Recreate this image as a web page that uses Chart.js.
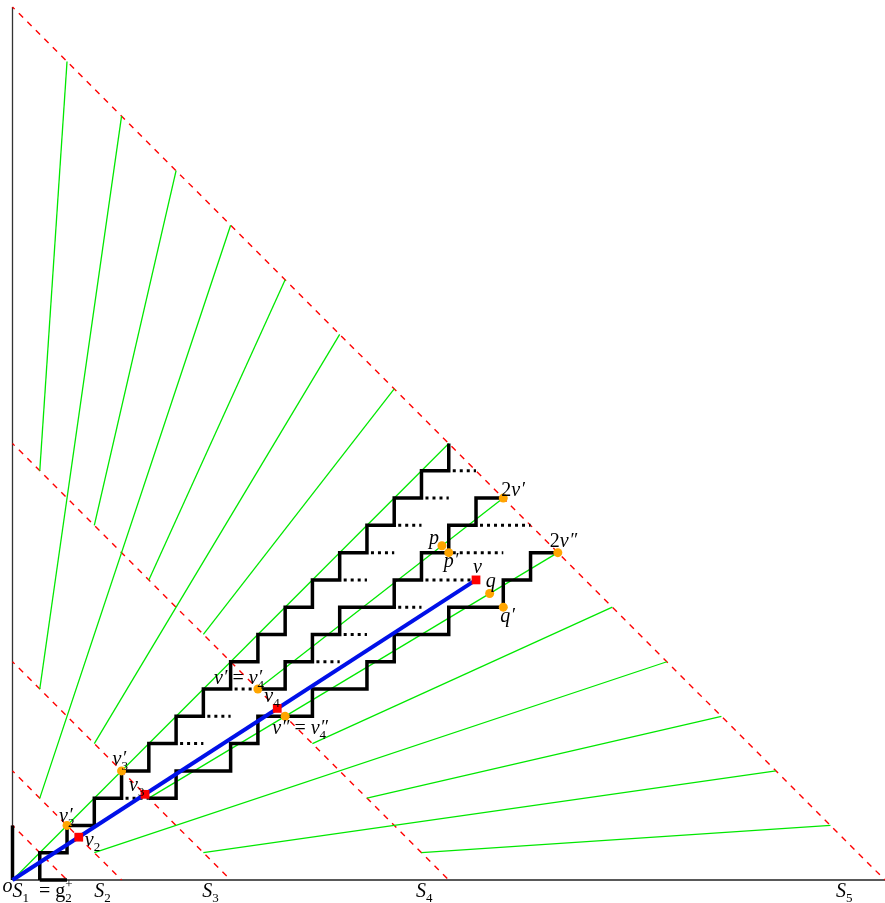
<!DOCTYPE html>
<html>
<head>
<meta charset="utf-8">
<script src="https://cdn.jsdelivr.net/npm/chart.js@4.4.1/dist/chart.umd.min.js"></script>
<style>
    html, body { margin: 0; padding: 0; background: #fff; }
</style>
</head>
<body>
<canvas id="c" width="885" height="903"></canvas>
<script>
// ============================
// Data (lattice coordinates)
// ============================

// red dashed level lines x + y = s
const redSums = [2, 4, 8, 16, 32];

// green ray segments: start point -> end point on x + y = 32
const greenStarts = [[1, 15], [1, 7], [3, 13], [1, 3], [5, 11], [3, 5], [7, 9], [0, 0],
                     [9, 7], [5, 3], [11, 5], [3, 1], [13, 3], [7, 1], [15, 1]];
const greenEnds   = [[2, 30], [4, 28], [6, 26], [8, 24], [10, 22], [12, 20], [14, 18], [16, 16],
                     [18, 14], [20, 12], [22, 10], [24, 8], [26, 6], [28, 4], [30, 2]];

// thick black staircases
const stairA = [[1, 0], [1, 1], [2, 1], [2, 2], [3, 2], [3, 3], [4, 3], [4, 4], [5, 4], [5, 5],
                [6, 5], [6, 6], [7, 6], [7, 7], [8, 7], [8, 8], [9, 8], [9, 9], [10, 9], [10, 10],
                [11, 10], [11, 11], [12, 11], [12, 12], [13, 12], [13, 13], [14, 13], [14, 14],
                [15, 14], [15, 15], [16, 15], [16, 16]];
const stairB = [[9, 7], [10, 7], [10, 8], [11, 8], [11, 9], [12, 9], [12, 10], [14, 10], [14, 11],
                [15, 11], [15, 12], [16, 12], [16, 13], [17, 13], [17, 14], [18, 14]];
const stairC = [[5, 3], [6, 3], [6, 4], [8, 4], [8, 5], [9, 5], [9, 6], [11, 6], [11, 7], [13, 7],
                [13, 8], [14, 8], [14, 9], [16, 9], [16, 10], [18, 10], [18, 11], [19, 11], [19, 12], [20, 12]];
const stairBits = [[[0, 0], [0, 2]], [[1, 0], [2, 0]]];

// dotted continuations: [y, xFrom, xTo]
const dotRows = [[3, 4, 5], [5, 6, 7], [6, 7, 8], [7, 8, 9],
                 [11, 12, 13], [12, 13, 14], [13, 14, 15], [14, 15, 16], [15, 16, 17],
                 [8, 11, 12], [9, 12, 13], [10, 14, 15], [11, 15, 17], [12, 16, 18], [13, 17, 19]];

// blue segment o -> v
const vPoint = [17, 11];

// marked points
const orangePts = { v2p: [2, 2], v3p: [4, 4], v4p: [9, 7], v4pp: [10, 6], twoVp: [18, 14],
                    twoVpp: [20, 12], p: [15.75, 12.25], pp: [16, 12], q: [17.5, 10.5], qp: [18, 10] };
const redPts = { v2: [2.43, 1.57], v3: [4.86, 3.14], v4: [9.71, 6.29], v: [17, 11] };

// ============================
// Text labels
// ============================
const labels = [
    { at: [0, 0], dx: -10, dy: 12, parts: [['o', 'i']] },
    { at: [0, 0], dx: 0, dy: 17, parts: [['S', 'i'], ['1', 'sub'], ['  = ', 'r'], ['g', 'r'], ['2', 'sub'], ['+', 'sup']] },
    { at: [3, 0], dx: 0, dy: 17, parts: [['S', 'i'], ['2', 'sub']] },
    { at: [7, 0], dx: -1, dy: 17, parts: [['S', 'i'], ['3', 'sub']] },
    { at: [14.8, 0], dx: 0, dy: 17, parts: [['S', 'i'], ['4', 'sub']] },
    { at: [30.2, 0], dx: 0, dy: 17, parts: [['S', 'i'], ['5', 'sub']] },
    { at: orangePts.v2p, dx: -8, dy: -3, parts: [['v', 'i'], ['\u2032', 'p'], ['2', 'sub']] },
    { at: redPts.v2, dx: 6, dy: 9, parts: [['v', 'i'], ['2', 'sub']] },
    { at: orangePts.v3p, dx: -9, dy: -6, parts: [['v', 'i'], ['\u2032', 'p'], ['3', 'sub']] },
    { at: redPts.v3, dx: -16, dy: -3, parts: [['v', 'i'], ['3', 'sub']] },
    { at: orangePts.v4p, dx: -44, dy: -5, parts: [['v', 'i'], ['\u2032', 'p'], [' = ', 'r'], ['v', 'i'], ['\u2032', 'p'], ['4', 'sub']] },
    { at: redPts.v4, dx: -13, dy: -6, parts: [['v', 'i'], ['4', 'sub']] },
    { at: orangePts.v4pp, dx: -13, dy: 18, parts: [['v', 'i'], ['\u2033', 'p'], [' = ', 'r'], ['v', 'i'], ['\u2033', 'p'], ['4', 'sub']] },
    { at: redPts.v, dx: -3, dy: -7, parts: [['v', 'i']] },
    { at: orangePts.p, dx: -13, dy: -2, parts: [['p', 'i']] },
    { at: orangePts.pp, dx: -5, dy: 14, parts: [['p', 'i'], ['\u2032', 'p']] },
    { at: orangePts.q, dx: -4, dy: -7, parts: [['q', 'i']] },
    { at: orangePts.qp, dx: -3, dy: 15, parts: [['q', 'i'], ['\u2032', 'p']] },
    { at: orangePts.twoVp, dx: -2, dy: -2, parts: [['2', 'r'], ['v', 'i'], ['\u2032', 'p']] },
    { at: orangePts.twoVpp, dx: -8, dy: -6, parts: [['2', 'r'], ['v', 'i'], ['\u2033', 'p']] }
];

// ============================
// Dataset helpers
// ============================
const pt = a => ({ x: a[0], y: a[1] });

function lineSet(points, color, width, order, dash) {
    return {
        data: points.map(pt),
        showLine: true,
        borderColor: color,
        borderWidth: width,
        borderDash: dash || [],
        borderDashOffset: dash ? 3 : 0,
        borderJoinStyle: 'miter',
        borderCapStyle: 'butt',
        pointRadius: 0,
        pointHoverRadius: 0,
        tension: 0,
        fill: false,
        clip: false,
        order: order
    };
}

function markSet(points, color, style, radius, order) {
    return {
        data: points.map(pt),
        showLine: false,
        pointStyle: style,
        pointRadius: radius,
        pointHoverRadius: radius,
        pointBackgroundColor: color,
        pointBorderColor: color,
        pointBorderWidth: 0,
        clip: false,
        order: order
    };
}

const datasets = [];

// axes
datasets.push(lineSet([[0, 0], [32, 0]], '#222', 1.3, 9));
datasets.push(lineSet([[0, 0], [0, 32]], '#333', 1.3, 9));

redSums.forEach(s => datasets.push(lineSet([[0, s], [s, 0]], '#ff0000', 1.4, 8, [6, 6])));

greenStarts.forEach((s, i) => datasets.push(lineSet([s, greenEnds[i]], '#00e800', 1.3, 7)));

dotRows.forEach(r => datasets.push(lineSet([[r[1], r[0]], [r[2], r[0]]], '#000', 3, 6, [3, 4])));

[stairA, stairB, stairC].forEach(s => datasets.push(lineSet(s, '#000', 3.5, 5)));
stairBits.forEach(s => datasets.push(lineSet(s, '#000', 3.5, 5)));

datasets.push(lineSet([[0, 0], vPoint], '#0010e8', 4, 4));

datasets.push(markSet(Object.values(orangePts), '#ffa500', 'circle', 4.5, 2));
datasets.push(markSet(Object.values(redPts), '#ff0000', 'rect', 6.2, 1));

// ============================
// Math-style text
// ============================
const MAIN = 20, SMALL = 13;
const SERIF = '"Liberation Serif", "DejaVu Serif", serif';

function drawMath(ctx, x, y, parts) {
    let cx = x;
    let scriptStart = null;
    let prevScript = false;
    parts.forEach(([t, k]) => {
        const isScript = (k === 'p' || k === 'sub' || k === 'sup');
        if (!isScript) {
            ctx.font = (k === 'i' ? 'italic ' : '') + MAIN + 'px ' + SERIF;
            ctx.fillText(t, cx, y);
            cx += ctx.measureText(t).width;
            prevScript = false;
            return;
        }
        if (!prevScript) scriptStart = cx;
        let yy = y;
        let font = SMALL + 'px ' + SERIF;
        if (k === 'sub') yy = y + 5;
        if (k === 'sup') yy = y - 9;
        if (k === 'p') { font = 'italic ' + (MAIN - 1) + 'px ' + SERIF; yy = y - 1; }
        ctx.font = font;
        const sx = (k === 'p') ? scriptStart + 0.5 : scriptStart;
        ctx.fillText(t, sx, yy);
        cx = Math.max(cx, sx + ctx.measureText(t).width);
        prevScript = true;
    });
}

const labelPlugin = {
    id: 'mathLabels',
    afterDatasetsDraw(chart) {
        const ctx = chart.ctx;
        const xs = chart.scales.x;
        const ys = chart.scales.y;
        ctx.save();
        ctx.fillStyle = '#000';
        ctx.textBaseline = 'alphabetic';
        labels.forEach(l => {
            const px = xs.getPixelForValue(l.at[0]) + l.dx;
            const py = ys.getPixelForValue(l.at[1]) + l.dy;
            drawMath(ctx, px, py, l.parts);
        });
        ctx.restore();
    }
};

new Chart(document.getElementById('c').getContext('2d'), {
    type: 'scatter',
    data: { datasets: datasets },
    options: {
        responsive: false,
        animation: false,
        devicePixelRatio: 1,
        layout: { autoPadding: false, padding: { left: 12.5, right: 0, top: 7, bottom: 23 } },
        scales: {
            x: { type: 'linear', min: 0, max: 32, display: false },
            y: { type: 'linear', min: 0, max: 32, display: false }
        },
        plugins: {
            legend: { display: false },
            tooltip: { enabled: false }
        }
    },
    plugins: [labelPlugin]
});
</script>
</body>
</html>
